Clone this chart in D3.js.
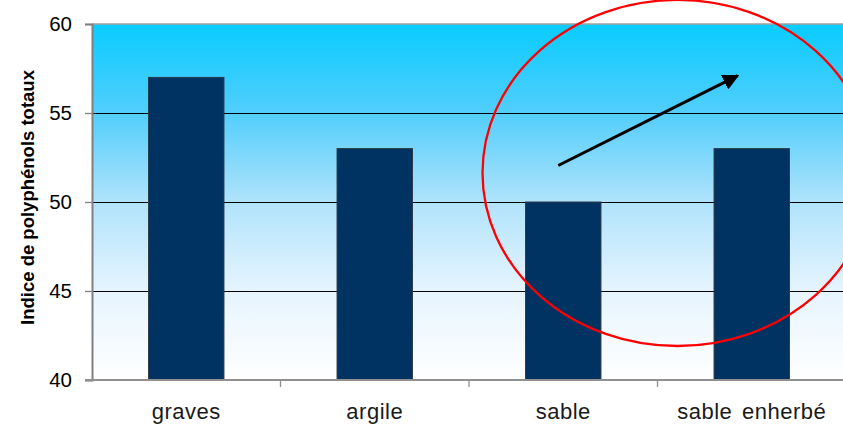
<!DOCTYPE html>
<html>
<head>
<meta charset="utf-8">
<script src="https://cdn.jsdelivr.net/npm/d3@7/dist/d3.min.js"></script>
<style>
  html, body { margin: 0; padding: 0; background: #fff; }
  svg { display: block; }
  text { font-family: "Liberation Sans", Arial, sans-serif; }
</style>
</head>
<body>
<svg id="chart" width="843" height="426"></svg>
<script>
// Data
const categories = ["graves", "argile", "sable", "sable enherbé"];
const values = [57, 53, 50, 53];
const yTicks = [40, 45, 50, 55, 60];
const gridValues = [45, 50, 55];
const yTitle = "Indice de polyphénols totaux";

const W = 843, H = 426;
const plot = { left: 92, right: 846, top: 24, bottom: 380 };

const svg = d3.select("#chart");

const x = d3.scaleBand()
  .domain(categories)
  .range([plot.left, plot.right])
  .paddingInner(0.6)
  .paddingOuter(0.3);

const y = d3.scaleLinear()
  .domain([40, 60])
  .range([plot.bottom, plot.top]);

// Background gradient of the plotting area
const defs = svg.append("defs");
const grad = defs.append("linearGradient")
  .attr("id", "bg").attr("x1", 0).attr("y1", 0).attr("x2", 0).attr("y2", 1);
[[0, "#08ccff"], [0.25, "#52cefb"], [0.5, "#b0e3fb"], [0.75, "#e6f4fe"], [1, "#ffffff"]]
  .forEach(([o, c]) => grad.append("stop").attr("offset", o).attr("stop-color", c));

defs.append("marker")
  .attr("id", "head")
  .attr("viewBox", "0 0 10 10")
  .attr("refX", 9).attr("refY", 5)
  .attr("markerWidth", 5.5).attr("markerHeight", 5.5)
  .attr("markerUnits", "strokeWidth")
  .attr("orient", "auto")
  .append("path").attr("d", "M0,0 L10,5 L0,10 Z").attr("fill", "#000");

svg.append("rect")
  .attr("x", plot.left).attr("y", plot.top)
  .attr("width", plot.right - plot.left).attr("height", plot.bottom - plot.top)
  .attr("fill", "url(#bg)");

// Top border
svg.append("line")
  .attr("x1", plot.left).attr("x2", plot.right)
  .attr("y1", plot.top).attr("y2", plot.top)
  .attr("stroke", "#a0a0a0").attr("stroke-width", 1.5);

// Gridlines
svg.append("g").selectAll("line").data(gridValues).join("line")
  .attr("x1", plot.left).attr("x2", plot.right)
  .attr("y1", d => Math.round(y(d)) + 0.5).attr("y2", d => Math.round(y(d)) + 0.5)
  .attr("stroke", "#000").attr("stroke-width", 1);

// Bars
svg.append("g").selectAll("rect").data(values).join("rect")
  .attr("x", (d, i) => x(categories[i]))
  .attr("width", x.bandwidth())
  .attr("y", d => y(d))
  .attr("height", d => y(40) - y(d))
  .attr("fill", "#003262")
  .attr("stroke", "#2a3a4a").attr("stroke-width", 1);

// Y axis
const yAxis = d3.axisLeft(y).tickValues(yTicks).tickSize(7).tickPadding(13);
const gy = svg.append("g")
  .attr("transform", `translate(${plot.left},0)`)
  .call(yAxis);
gy.select(".domain").attr("stroke", "#808080").attr("stroke-width", 2);
gy.selectAll(".tick line").attr("stroke", "#808080").attr("stroke-width", 1.3);
gy.selectAll(".tick text")
  .attr("font-size", 20.5).attr("fill", "#000")
  .attr("font-family", "Liberation Sans, Arial, sans-serif");

// X axis (ticks between categories)
const step = x.step();
const boundaries = categories.slice(1).map(c => x(c) - x.paddingInner() * step / 2);
const gx = svg.append("g");
gx.append("line")
  .attr("x1", plot.left - 7).attr("x2", plot.right)
  .attr("y1", plot.bottom).attr("y2", plot.bottom)
  .attr("stroke", "#909090").attr("stroke-width", 2);
gx.selectAll("line.tk").data(boundaries).join("line").attr("class", "tk")
  .attr("x1", d => d).attr("x2", d => d)
  .attr("y1", plot.bottom).attr("y2", plot.bottom + 7)
  .attr("stroke", "#909090").attr("stroke-width", 1.3);
gx.selectAll("text").data(categories).join("text")
  .attr("x", d => x(d) + x.bandwidth() / 2)
  .attr("y", 419)
  .attr("text-anchor", "middle")
  .attr("font-size", 22)
  .attr("letter-spacing", 0.5)
  .attr("word-spacing", 3)
  .attr("fill", "#1a1a1a")
  .text(d => d);

// Y axis title
svg.append("text")
  .attr("transform", `translate(34,${(68 + 327) / 2}) rotate(-90)`)
  .attr("text-anchor", "middle")
  .attr("font-size", 18.5)
  .attr("font-weight", "bold")
  .attr("fill", "#000")
  .text(yTitle);

// Highlight: ellipse around the last two categories and a rising arrow
const midX = (x("sable") + x("sable enherbé")) / 2 + x.bandwidth() / 2;
svg.append("ellipse")
  .attr("cx", midX + 20)
  .attr("cy", y(51.63))
  .attr("rx", 195)
  .attr("ry", y(40) - y(49.72))
  .attr("fill", "none")
  .attr("stroke", "#ff0000")
  .attr("stroke-width", 2.3);

svg.append("line")
  .attr("x1", x("sable") + x.bandwidth() / 2 - 5)
  .attr("y1", y(52.05))
  .attr("x2", x("sable enherbé") + x.bandwidth() / 2 - 14)
  .attr("y2", y(57.1))
  .attr("stroke", "#000")
  .attr("stroke-width", 3)
  .attr("marker-end", "url(#head)");
</script>
</body>
</html>
